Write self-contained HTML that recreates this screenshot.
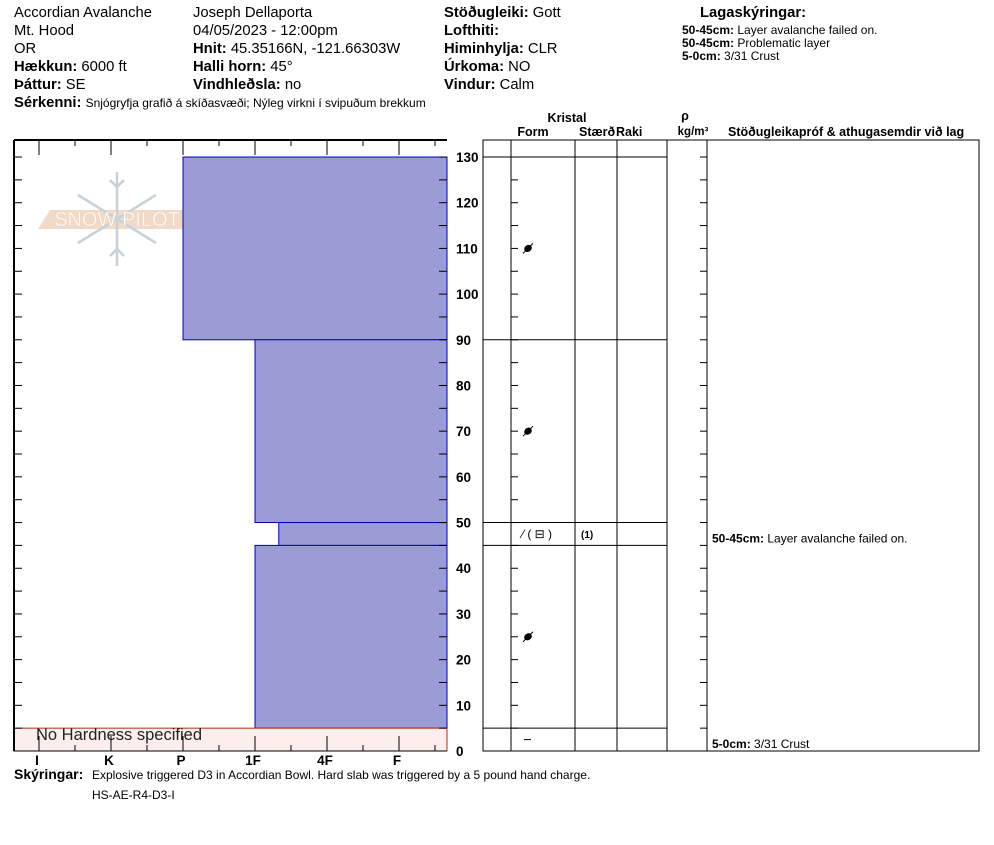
<!DOCTYPE html>
<html><head><meta charset="utf-8"><style>
body{margin:0;background:#fff;width:994px;height:840px;overflow:hidden;font-family:"Liberation Sans",sans-serif}
svg text{font-family:"Liberation Sans",sans-serif}
</style></head><body>
<svg id="chart" width="994" height="840" xmlns="http://www.w3.org/2000/svg">
<g font-size="14.8" fill="#000">
<text x="14" y="17">Accordian Avalanche</text>
<text x="14" y="35">Mt. Hood</text>
<text x="14" y="53">OR</text>
<text x="14" y="71"><tspan font-weight="bold">Hækkun:</tspan> 6000 ft</text>
<text x="14" y="89"><tspan font-weight="bold">Þáttur:</tspan> SE</text>
<text x="14" y="107"><tspan font-weight="bold">Sérkenni:</tspan> <tspan font-size="12">Snjógryfja grafið á skíðasvæði; Nýleg virkni í svipuðum brekkum</tspan></text>
<text x="193" y="17">Joseph Dellaporta</text>
<text x="193" y="35">04/05/2023 - 12:00pm</text>
<text x="193" y="53"><tspan font-weight="bold">Hnit:</tspan> 45.35166N, -121.66303W</text>
<text x="193" y="71"><tspan font-weight="bold">Halli horn:</tspan> 45°</text>
<text x="193" y="89"><tspan font-weight="bold">Vindhleðsla:</tspan> no</text>
<text x="444" y="17"><tspan font-weight="bold">Stöðugleiki:</tspan> Gott</text>
<text x="444" y="35"><tspan font-weight="bold">Lofthiti:</tspan></text>
<text x="444" y="53"><tspan font-weight="bold">Himinhylja:</tspan> CLR</text>
<text x="444" y="71"><tspan font-weight="bold">Úrkoma:</tspan> NO</text>
<text x="444" y="89"><tspan font-weight="bold">Vindur:</tspan>  Calm</text>
<text x="700" y="17" font-weight="bold">Lagaskýringar:</text>
<g font-size="12"><text x="682" y="34"><tspan font-weight="bold">50-45cm:</tspan> Layer avalanche failed on.</text>
<text x="682" y="47"><tspan font-weight="bold">50-45cm:</tspan> Problematic layer</text>
<text x="682" y="60"><tspan font-weight="bold">5-0cm:</tspan> 3/31 Crust</text></g>
</g>
<g opacity="0.8">
<polygon points="50,210 195,210 185,229 38,229" fill="#f0d2b8"/>
<g stroke="#b8c6d0" stroke-width="2.5" fill="none">
<line x1="117" y1="172" x2="117" y2="266"/><line x1="78" y1="195" x2="156" y2="243"/><line x1="156" y1="195" x2="78" y2="243"/>
<path d="M110,180 L117,187 L124,180 M110,256 L117,249 L124,256"/></g>
<text x="117" y="226" text-anchor="middle" font-size="20" fill="#fff" stroke="#e8c8b0" stroke-width="0.5">SNOW PILOT</text>
</g>
<g id="plot"></g>
<g id="table"></g>
<g font-size="12.5" font-weight="bold">
<text x="567" y="122" text-anchor="middle">Kristal</text>
<text x="533" y="136" text-anchor="middle">Form</text>
<text x="579" y="136">Stærð</text><text x="616" y="136">Raki</text>
<text x="685" y="120" text-anchor="middle">ρ</text>
<text x="693" y="135" text-anchor="middle" font-size="11.5">kg/m³</text>
<text x="728" y="136">Stöðugleikapróf &amp; athugasemdir við lag</text>
</g>
<g>
<text x="14" y="779" font-size="14" font-weight="bold">Skýringar:</text>
<text x="92" y="779" font-size="12">Explosive triggered D3 in Accordian Bowl. Hard slab was triggered by a 5 pound hand charge.</text>
<text x="92" y="799" font-size="12">HS-AE-R4-D3-I</text>
</g>
</svg>
<script>
const hardLabels=["I","K","P","1F","4F","F"];
const layerTop=[130,90,50,45,5];
const layerBot=[90,50,45,5,0];
const layerHard=[2,3,3.33,3,null];
const yTicks=[0,10,20,30,40,50,60,70,80,90,100,110,120,130];
const formDepths=[110,70,25];
const comments=[{d:45,t:"50-45cm:",v:" Layer avalanche failed on."},{d:0,t:"5-0cm:",v:" 3/31 Crust"}];
const NS="http://www.w3.org/2000/svg";
const y=v=>751-v*4.569;
const x=h=>39+72*h;
const L=14,R=447,T=140,B=751;
function mk(p,tag,a,txt){const e=document.createElementNS(NS,tag);for(const k in a)e.setAttribute(k,a[k]);if(txt!=null)e.textContent=txt;p.appendChild(e);return e;}
const plot=document.getElementById('plot');
for(let i=0;i<layerTop.length;i++){
 if(layerHard[i]===null){
  const r=mk(plot,'rect',{x:L,y:y(layerTop[i]),width:R-L,height:y(layerBot[i])-y(layerTop[i]),fill:'#fdeeee',stroke:'#b03010','stroke-width':1});
  
  
  const t=mk(plot,'text',{x:36,y:y(layerTop[i])+12,'font-size':16.5,fill:'#222'},'No Hardness specified');
  
  
 } else {
  const r=mk(plot,'rect',{x:x(layerHard[i]),y:y(layerTop[i]),width:R-x(layerHard[i]),height:y(layerBot[i])-y(layerTop[i]),fill:'#9b9bd6',stroke:'#0000c0','stroke-width':1});
  
  
 }
}
mk(plot,'line',{x1:L,y1:T,x2:R,y2:T,stroke:'#000','stroke-width':2});
mk(plot,'line',{x1:L,y1:T,x2:L,y2:B,stroke:'#000','stroke-width':2});
mk(plot,'line',{x1:L,y1:B,x2:R,y2:B,stroke:'#000','stroke-width':1});
for(let h=0;h<6;h++){
 mk(plot,'line',{x1:x(h),y1:T,x2:x(h),y2:T+15,stroke:'#000'});
 mk(plot,'line',{x1:x(h),y1:B,x2:x(h),y2:B-15,stroke:'#000'});
 mk(plot,'line',{x1:x(h)+36,y1:T,x2:x(h)+36,y2:T+6,stroke:'#000'});
 mk(plot,'line',{x1:x(h)+36,y1:B,x2:x(h)+36,y2:B-6,stroke:'#000'});
 const t=mk(plot,'text',{x:x(h)-2,y:765,'font-size':13.5,'font-weight':'bold','text-anchor':'middle'},hardLabels[h]);
 
 
}
for(let v=0;v<=130;v+=5){
 mk(plot,'line',{x1:L,y1:y(v),x2:L+8,y2:y(v),stroke:'#000'});
 mk(plot,'line',{x1:R,y1:y(v),x2:R-8,y2:y(v),stroke:'#000'});
}
yTicks.forEach(v=>{const t=mk(plot,'text',{x:456,y:y(v)+5,'font-size':13.5,'font-weight':'bold'},String(v));
 
 });
const tb=document.getElementById('table');
mk(tb,'rect',{x:483,y:T,width:496,height:B-T,fill:'none',stroke:'#000'});
[511,575,617,667,707].forEach(c=>mk(tb,'line',{x1:c,y1:T,x2:c,y2:B,stroke:'#000'}));
layerTop.forEach(d=>mk(tb,'line',{x1:483,y1:y(d),x2:667,y2:y(d),stroke:'#000'}));
for(let v=0;v<=130;v+=5){
 mk(tb,'line',{x1:511,y1:y(v),x2:518,y2:y(v),stroke:'#000'});
 mk(tb,'line',{x1:707,y1:y(v),x2:700,y2:y(v),stroke:'#000'});
}
formDepths.forEach(d=>{const c=mk(tb,'g',{});
 
 
 mk(c,'ellipse',{cx:528,cy:y(d),rx:4,ry:3.3,fill:'#000',transform:'rotate(-35 528 '+y(d)+')'});
 mk(c,'line',{x1:523,y1:y(d)+5,x2:533,y2:y(d)-5,stroke:'#000','stroke-width':1});});
const g=mk(tb,'text',{x:522,y:y(47.5)+4,'font-size':12},'⁄ ( ⊟ )');


const s=mk(tb,'text',{x:581,y:y(47.5)+4,'font-size':10,'font-weight':'bold'},'(1)');


mk(tb,'line',{x1:524,y1:y(2.5),x2:531,y2:y(2.5),stroke:'#000'});
comments.forEach(c=>{const t=mk(tb,'text',{x:712,y:y(c.d)-3,'font-size':12});
 
 
 mk(t,'tspan',{'font-weight':'bold'},c.t);mk(t,'tspan',{},c.v);});
</script>
</body></html>
